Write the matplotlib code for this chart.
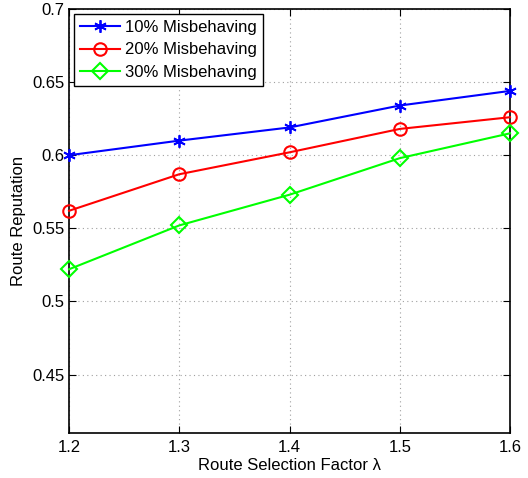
import matplotlib
matplotlib.use("Agg")
import matplotlib.pyplot as plt
from matplotlib.ticker import FuncFormatter

plt.rcParams["font.family"] = ["Liberation Sans", "DejaVu Sans"]

x = [1.2, 1.3, 1.4, 1.5, 1.6]
mis10 = [0.600, 0.610, 0.619, 0.634, 0.644]
mis20 = [0.562, 0.587, 0.602, 0.618, 0.626]
mis30 = [0.522, 0.552, 0.573, 0.598, 0.615]

xticks = [1.2, 1.3, 1.4, 1.5, 1.6]
yticks = [0.45, 0.5, 0.55, 0.6, 0.65, 0.7]

fig = plt.figure(figsize=(5.28, 4.78), dpi=100)
ax = fig.add_axes([0.1307, 0.0941, 0.8353, 0.8870])

# MATLAB-style asterisk marker
ax.plot(x, mis10, color="#0000ff", marker=(6, 2, 0), markersize=9, lw=1.5,
        markeredgewidth=1.3, label="10% Misbehaving", clip_on=False, zorder=3)
ax.plot(x, mis20, color="#ff0000", marker="o", markersize=9, lw=1.5,
        markerfacecolor="none", markeredgewidth=1.5, label="20% Misbehaving",
        clip_on=False, zorder=3)
ax.plot(x, mis30, color="#00ff00", marker="D", markersize=8, lw=1.5,
        markerfacecolor="none", markeredgewidth=1.5, label="30% Misbehaving",
        clip_on=False, zorder=3)

ax.set_xlim(1.2, 1.6)
ax.set_ylim(0.41, 0.7)
ax.set_xticks(xticks)
ax.set_yticks(yticks)
ax.xaxis.set_major_formatter(FuncFormatter(lambda v, p: f"{v:g}"))
ax.yaxis.set_major_formatter(FuncFormatter(lambda v, p: f"{v:g}"))
ax.tick_params(direction="in", top=True, right=True, labelsize=12, length=5, width=0.8)
ax.tick_params(axis="x", pad=5)
ax.grid(True, linestyle=(0, (1, 3)), color="#a0a0a0", lw=0.8)
for s in ax.spines.values():
    s.set_linewidth(1.2)

ax.set_xlabel("Route Selection Factor λ", fontsize=12, labelpad=2)
ax.set_ylabel("Route Reputation", fontsize=12, labelpad=4)

leg = ax.legend(loc="upper left", fontsize=12, fancybox=False, framealpha=1,
                edgecolor="black", borderaxespad=0.3, handlelength=2.4,
                handletextpad=0.3, borderpad=0.35, labelspacing=0.45)
leg.get_frame().set_linewidth(1.0)

fig.savefig("out.png", dpi=100)
